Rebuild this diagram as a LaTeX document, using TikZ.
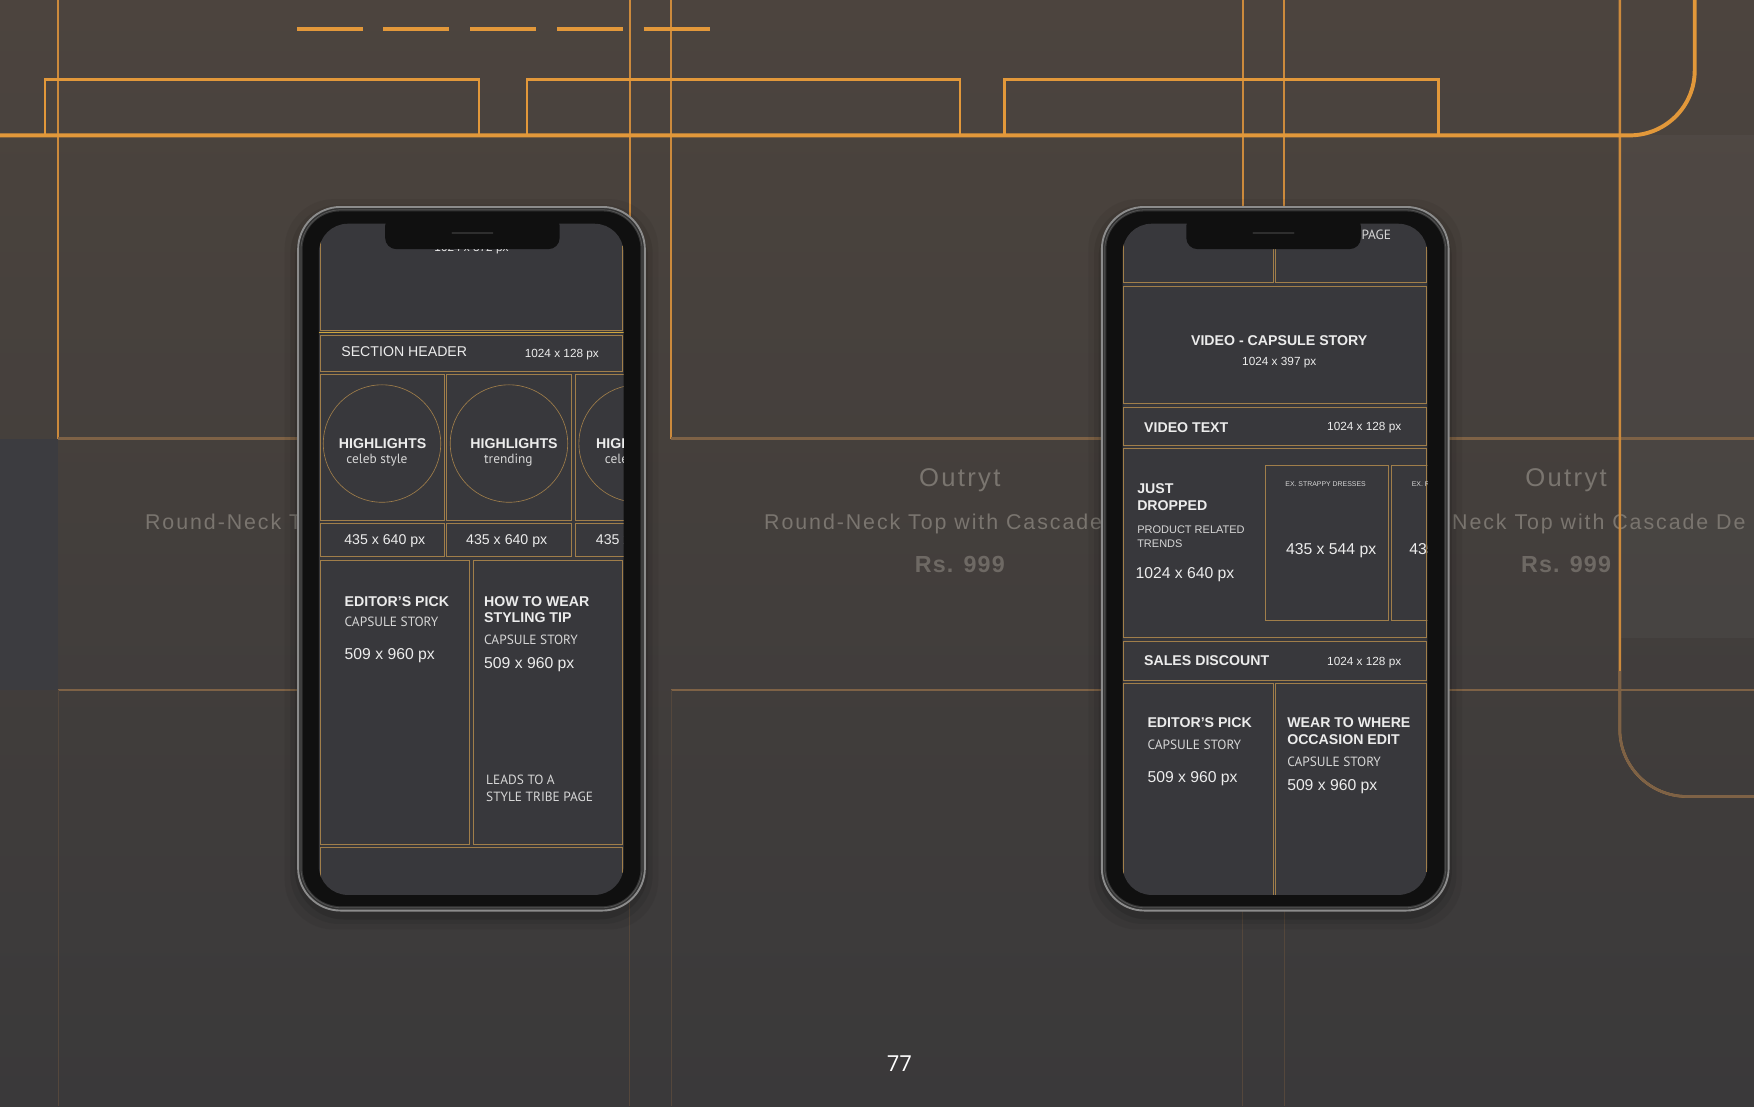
\documentclass[tikz,border=0pt]{standalone}
\usepackage{fontspec}
\setmainfont{Liberation Sans}
\newfontfamily\myriad{PT Sans}
\newfontfamily\tracked[LetterSpace=9]{Liberation Sans}
\newfontfamily\pricefont[LetterSpace=5]{Liberation Sans}
\newfontfamily\pagefont{Open Sans}
\usepackage{tikz}

\definecolor{bgtop}{RGB}{76,68,62}
\definecolor{bgmid}{RGB}{66,61,57}
\definecolor{bgbot}{RGB}{58,57,58}
\definecolor{panel}{RGB}{60,60,64}
\definecolor{wire}{RGB}{226,152,58}
\definecolor{wiremid}{RGB}{204,138,60}
\definecolor{wirefade}{RGB}{126,98,70}
\definecolor{wirelow}{RGB}{84,71,60}
\definecolor{screen}{RGB}{56,56,60}
\definecolor{gold}{RGB}{160,126,74}
\definecolor{goldhi}{RGB}{206,166,62}
\definecolor{cardtxt}{RGB}{122,117,111}
\definecolor{ink}{RGB}{236,236,236}
\definecolor{inksub}{RGB}{214,214,214}
\definecolor{rim}{RGB}{140,140,140}
\definecolor{bezel}{RGB}{16,16,16}
\definecolor{speaker}{RGB}{46,46,46}

\tikzset{
	cell/.style={draw=gold, line width=0.9pt},
	hd/.style={font=\bfseries\fontsize{18}{20}\selectfont, text=ink, inner sep=0pt},
	sub/.style={font=\myriad\fontsize{17}{19}\selectfont, text=inksub, inner sep=0pt},
	big/.style={font=\fontsize{20}{22}\selectfont, text=ink, inner sep=0pt},
	mid/.style={font=\fontsize{18}{20}\selectfont, text=ink, inner sep=0pt},
	sm/.style={font=\fontsize{15}{17}\selectfont, text=ink, inner sep=0pt},
	note/.style={font=\fontsize{14}{16}\selectfont, text=inksub, inner sep=0pt},
	tiny/.style={font=\fontsize{8.8}{10}\selectfont, text=inksub, inner sep=0pt},
	card/.style={text=cardtxt, inner sep=0pt, anchor=base},
}

\begin{document}
\begin{tikzpicture}[x=0.5mm,y=-0.5mm]
	\useasboundingbox (0,0) rectangle (1568,989);
	
	% --- page background ---
	\shade[top color=bgtop, middle color=bgmid, bottom color=bgbot] (0,0) rectangle (1568,989);
	\fill[panel] (0,392) rectangle (52,617);
	\fill[white, opacity=0.03] (1448,121) rectangle (1568,570);
	
	% product cards behind the phones
	\foreach \cx in {52,600,1148}{
		\draw[wiremid, line width=2.6pt] (\cx,0) -- (\cx,392);
		\draw[wiremid, line width=2.6pt] (\cx+511,0) -- (\cx+511,392);
		\draw[wirefade, line width=2.8pt] (\cx,392) -- (\cx+511,392);
		\draw[wirefade, line width=1.8pt] (\cx,617) -- (\cx+511,617);
		\draw[wirelow, line width=1.4pt] (\cx,617) -- (\cx,989);
		\draw[wirelow, line width=1.4pt] (\cx+511,617) -- (\cx+511,989);
	}
	\foreach \cx/\nm in {858/b, 1400/c}{
		\node[card, font=\tracked\fontsize{32.6}{34}\selectfont] (brand-\nm) at (\cx,434.8) {Outryt};
		\node[card, font=\pricefont\bfseries\fontsize{29.6}{31}\selectfont, text=cardtxt!90!black] (price-\nm) at (\cx,511.7) {Rs. 999};
	}
	\foreach \sx/\nm/\desc in {129.6/a/Round-Neck To, 683/b/Round-Neck Top with Cascade, 1225/c/Round-Neck Top with Cascade De}
		\node[card, anchor=base west, font=\tracked\fontsize{27.2}{29}\selectfont] (desc-\nm) at (\sx,473.7) {\desc};
	
	% --- wireframe overlay ---
	\foreach \i in {0,...,4}
		\draw[wire, line width=4.2pt] (265.3+77.5*\i,26) -- ++(59,0);
	\foreach \tabl/\tabr in {40/428, 471/858, 898/1286}
		\draw[wire, line width=3pt] (\tabl,121) -- (\tabl,71) -- (\tabr,71) -- (\tabr,121);
	\draw[wiremid, line width=3.2pt, rounded corners=30mm] (1448,0) -- (1448,712) -- (1600,712);
	\draw[wirefade, line width=3.4pt, rounded corners=30mm] (1448,600) -- (1448,712) -- (1600,712);
	\draw[wire, line width=5pt, rounded corners=29mm] (0,121) -- (1515,121) -- (1515,0);
	
	% --- phone bodies ---
	\foreach \px in {266.5,985}{
		\foreach \sh/\op in {12/0.05, 7/0.07, 3/0.10}
			\fill[black, opacity=\op, rounded corners=22mm] (\px-\sh,185-\sh+5) rectangle (\px+310+\sh,814+\sh+5);
		\fill[black!80, draw=rim, line width=2.4pt, rounded corners=19mm] (\px,185) rectangle (\px+310,814);
		\draw[rim!60!black, line width=1pt, rounded corners=18mm] (\px+2.5,187.5) rectangle (\px+307.5,811.5);
		\fill[bezel, rounded corners=17mm] (\px+4,189) rectangle (\px+306,810);
		\fill[screen, rounded corners=13mm] (\px+18.5,200) rectangle (\px+291,800);
	}
	
	% --- left screen ---
	\begin{scope}
		\clip[rounded corners=13mm] (285,200) rectangle (557.5,800);
		\node[sm, anchor=base] (l-topdim) at (421.5,225) {1024 x 372 px};
		\draw[cell] (286,150) rectangle (556.5,295.5);
		\draw[goldhi, line width=1.8pt] (285,297.4) -- (557.5,297.4);
		\draw[cell] (286,299.5) rectangle (556.5,332.3);
		\node[mid, anchor=base west] (l-sec) at (305,319) {SECTION HEADER};
		\node[sm, anchor=base west] (l-secdim) at (469,319.5) {1024 x 128 px};
		
		% highlight tiles, the third one runs off the screen
		\foreach \ca/\cb/\cx/\hx/\sx/\dx/\lbl/\idx in {286/397/341.5/342/337/344/celeb style/1, 399/511/455/459.5/454.5/453/trending/2, 514/630/570/572/568/569/celeb style/3}{
			\draw[cell] (\ca,334.4) rectangle (\cb,465);
			\draw[cell] (\ca,467.7) rectangle (\cb,497.6);
			\draw[gold, line width=0.8pt] (\cx,396.5) circle (52.5);
			\node[hd, anchor=base] (l-hl\idx) at (\hx,400.5) {HIGHLIGHTS};
			\node[sub, anchor=base] (l-hltag\idx) at (\sx,414) {\lbl};
			\node[mid, anchor=base] (l-hldim\idx) at (\dx,487) {435 x 640 px};
		}
		
		% capsule stories
		\draw[cell] (286,500.6) rectangle (419.5,754.5);
		\draw[cell] (423,500.6) rectangle (556.5,754.5);
		\draw[cell] (286,757.5) rectangle (556.5,830);
		\node[hd, anchor=base west] (l-ed) at (308,541.8) {EDITOR’S PICK};
		\node[sub, anchor=base west] (l-edsub) at (308,560.2) {CAPSULE STORY};
		\node[big, anchor=base west] (l-eddim) at (308,589.6) {509 x 960 px};
		\node[hd, anchor=base west] (l-how) at (432.7,541.8) {HOW TO WEAR};
		\node[hd, anchor=base west] (l-tip) at (432.7,556.5) {STYLING TIP};
		\node[sub, anchor=base west] (l-howsub) at (432.7,576.2) {CAPSULE STORY};
		\node[big, anchor=base west] (l-howdim) at (432.7,597.4) {509 x 960 px};
		\node[sub, anchor=base west] (l-leads) at (434.5,701.2) {LEADS TO A};
		\node[sub, anchor=base west] (l-tribe) at (434.5,716.2) {STYLE TRIBE PAGE};
	\end{scope}
	
	% --- right screen ---
	\begin{scope}
		\clip[rounded corners=13mm] (1003.5,200) rectangle (1276,800);
		\draw[cell] (1004,150) rectangle (1138,252.7);
		\draw[cell] (1140,150) rectangle (1275,252.7);
		\node[sub, anchor=base west] (r-page) at (1217,214) {PAGE};
		\draw[cell] (1004,256.3) rectangle (1275,361);
		\node[hd, anchor=base] (r-video) at (1143.5,308.5) {VIDEO - CAPSULE STORY};
		\node[sm, anchor=base] (r-videodim) at (1143.6,327) {1024 x 397 px};
		\draw[cell] (1004,364) rectangle (1275,397.8);
		\node[hd, anchor=base west] (r-vtext) at (1022.7,386.3) {VIDEO TEXT};
		\node[sm, anchor=base west] (r-vtextdim) at (1186.3,384.6) {1024 x 128 px};
		
		% just dropped strip
		\draw[cell] (1004,400.7) rectangle (1275,569.5);
		\draw[cell] (1131,415.7) rectangle (1241,554.3);
		\draw[cell] (1243.5,415.7) rectangle (1360,554.3);
		\node[hd, anchor=base west] (r-just) at (1016.5,441) {JUST};
		\node[hd, anchor=base west] (r-dropped) at (1016.5,456.5) {DROPPED};
		\node[note, anchor=base west] (r-prod) at (1016.5,477.3) {PRODUCT RELATED};
		\node[note, anchor=base west] (r-trends) at (1016.5,489.2) {TRENDS};
		\node[big, anchor=base west] (r-dropdim) at (1015,517) {1024 x 640 px};
		\node[tiny, anchor=base] (r-ex1) at (1185,435) {EX. STRAPPY DRESSES};
		\node[big, anchor=base] (r-ex1dim) at (1190,495.8) {435 x 544 px};
		\node[tiny, anchor=base west] (r-ex2) at (1262,435) {EX. R};
		\node[big, anchor=base west] (r-ex2dim) at (1259.7,495.8) {435 x 544 px};
		
		% sales and capsule stories
		\draw[cell] (1004,573.6) rectangle (1275,607.9);
		\node[hd, anchor=base west] (r-sales) at (1022.7,594.5) {SALES DISCOUNT};
		\node[sm, anchor=base west] (r-salesdim) at (1186.3,594.8) {1024 x 128 px};
		\draw[cell] (1004,610.9) rectangle (1138,830);
		\draw[cell] (1140,610.9) rectangle (1275,830);
		\node[hd, anchor=base west] (r-ed) at (1025.7,650.5) {EDITOR’S PICK};
		\node[sub, anchor=base west] (r-edsub) at (1025.7,669.6) {CAPSULE STORY};
		\node[big, anchor=base west] (r-eddim) at (1025.7,699.3) {509 x 960 px};
		\node[hd, anchor=base west] (r-wear) at (1150.6,650.5) {WEAR TO WHERE};
		\node[hd, anchor=base west] (r-occ) at (1150.6,665.5) {OCCASION EDIT};
		\node[sub, anchor=base west] (r-wearsub) at (1150.6,685.2) {CAPSULE STORY};
		\node[big, anchor=base west] (r-weardim) at (1150.6,706.8) {509 x 960 px};
	\end{scope}
	
	% --- notches ---
	\foreach \nx in {422.3,1138.5}{
		\fill[bezel, rounded corners=5mm] (\nx-78,192) rectangle (\nx+78,222.7);
		\draw[speaker, line width=2.4pt, line cap=round] (\nx-18,208.5) -- (\nx+18,208.5);
	}
	
	% page number
	\node[font=\pagefont\fontsize{28}{30}\selectfont, text=white, inner sep=0pt, anchor=base] (pagenum) at (804,958) {77};
	
\end{tikzpicture}
\end{document}
